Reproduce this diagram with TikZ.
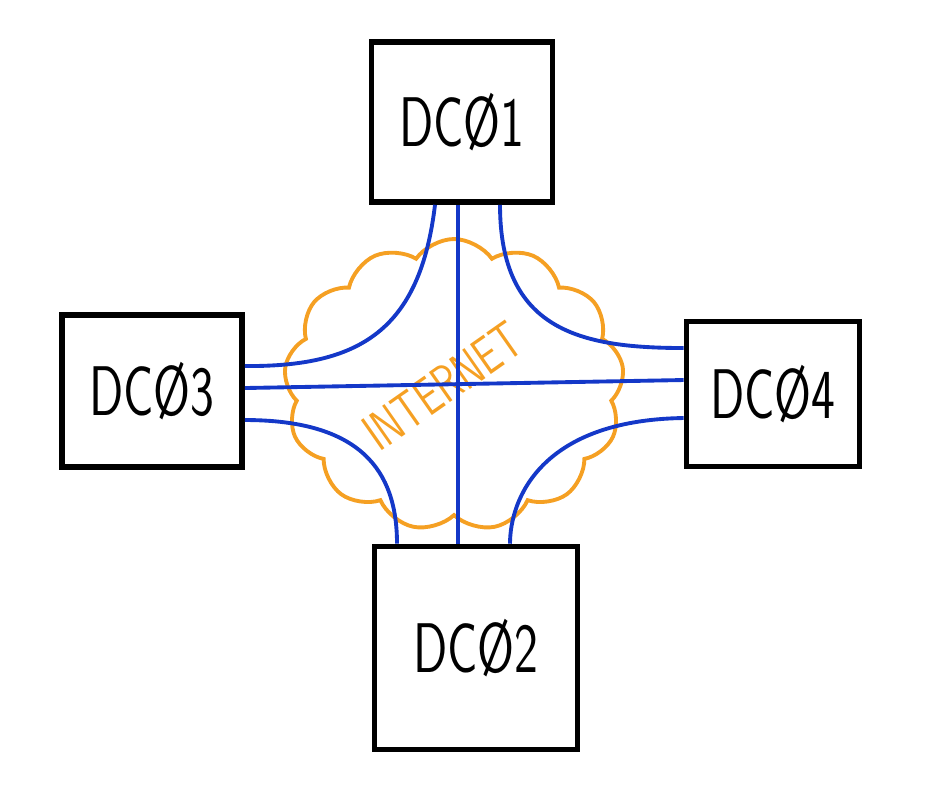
\documentclass[tikz,border=0pt]{standalone}
\usepackage{fontspec}
\usepackage{tikz}
\usetikzlibrary{shapes.symbols}

\definecolor{linkblue}{HTML}{1438C8}
\definecolor{netorange}{HTML}{F5A023}

\newcommand{\narrow}[1]{\scalebox{0.72}[1]{#1}}

\tikzset{
	dcbox/.style={draw=black, line width=1.6pt, font=\fontsize{20}{24}\selectfont\sffamily},
	link/.style={draw=linkblue, line width=1.1pt},
}

\begin{document}
\begin{tikzpicture}[]
	%\draw[help lines, thick] (0,0) grid (9.25,-7.87);
	\useasboundingbox (0,0) rectangle (9.25,-7.87);
	\node (inet) at (4.54,-3.85) [shape=cloud, draw=netorange, line width=1.1pt, cloud puffs=13, cloud puff arc=110, cloud ignores aspect, minimum width=3.4cm, minimum height=2.92cm] {};
	\node (dc1) at (4.62,-1.22) [dcbox, minimum width=1.81cm, minimum height=1.6cm] {\narrow{DCØ1}};
	\node (dc3) at (1.52,-3.91) [dcbox, minimum width=1.8cm, minimum height=1.52cm] {\narrow{DCØ3}};
	\node (dc4) at (7.73,-3.94) [dcbox, minimum width=1.73cm, minimum height=1.45cm] {\narrow{DCØ4}};
	\node (dc2) at (4.76,-6.48) [dcbox, minimum width=2.03cm, minimum height=2.03cm] {\narrow{DCØ2}};
	\node (label) at (4.43,-3.86) [text=netorange, rotate=35, font=\fontsize{15}{18}\selectfont\sffamily] {\narrow{INTERNET}};
	% links
	\draw[link] ([xshift=-0.04cm]dc1.south) -- ([xshift=-0.18cm]dc2.north);
	\draw[link] ([yshift=0.03cm]dc3.east) -- ([yshift=0.14cm]dc4.west);
	\draw[link] ([xshift=-0.27cm]dc1.south) .. controls (4.2,-3.3) and (3.6,-3.67) .. ([yshift=0.25cm]dc3.east);
	\draw[link] ([xshift=0.38cm]dc1.south) .. controls (5.0,-3.3) and (5.8,-3.48) .. ([yshift=0.46cm]dc4.west);
	\draw[link] ([yshift=-0.29cm]dc3.east) .. controls (3.6,-4.2) and (3.97,-4.7) .. ([xshift=-0.79cm]dc2.north);
	\draw[link] ([yshift=-0.24cm]dc4.west) .. controls (5.4,-4.2) and (5.1,-5.0) .. ([xshift=0.34cm]dc2.north);
\end{tikzpicture}
\end{document}
